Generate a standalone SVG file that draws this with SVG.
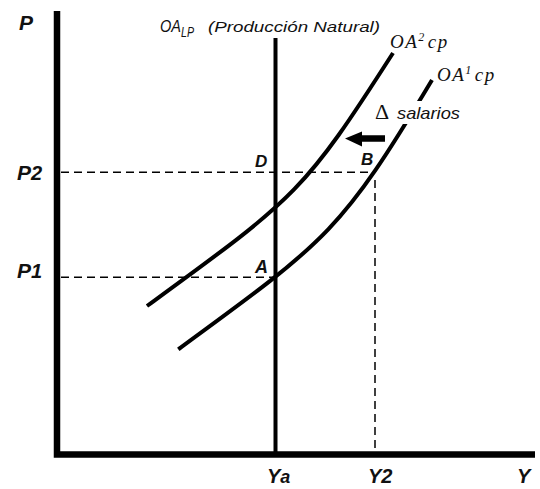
<svg xmlns="http://www.w3.org/2000/svg" width="540" height="489" viewBox="0 0 540 489">
<style>
.lbl{font-family:"Liberation Sans",Arial,sans-serif;font-weight:bold;font-style:italic;fill:#111}
.math{font-family:"Liberation Serif","Times New Roman",serif;font-style:italic;fill:#111}
.up{font-family:"Liberation Serif","Times New Roman",serif;font-style:normal;fill:#111}
.it{font-family:"Liberation Sans",Arial,sans-serif;font-style:italic;fill:#111}
.curve{fill:none;stroke:#000;stroke-width:4}
.dash{fill:none;stroke:#000;stroke-width:1.5;stroke-dasharray:8,5}
</style>
<rect width="540" height="489" fill="#fff"/>
<g id="axes">
<path d="M57,11 V454.5 H535" fill="none" stroke="#000" stroke-width="6.5"/>
</g>
<g id="connectors">
<path class="dash" d="M61,172.3 H374"/>
<path class="dash" d="M61,277.3 H275"/>
<path class="dash" d="M375,180 V451"/>
<path id="oalp" d="M275.5,38 V452" stroke="#000" stroke-width="4" fill="none"/>
<path id="oa2" class="curve" d="M147,306 C297,196.5 303,193.4 393,53"/>
<path id="oa1" class="curve" d="M178.3,349.3 C328.3,239.8 342,230.3 432,80"/>
<polygon id="shift-arrow" points="345,138.5 362,131.5 362,135.3 385,135.3 385,141.7 362,141.7 362,146.5" fill="#000"/>
</g>
<g id="label-salarios">
<rect x="370" y="101" width="95" height="23" fill="#fff"/>
<text class="up" x="375" y="118.5" font-size="22">Δ</text>
<text class="it" x="397" y="119" font-size="17" textLength="63" lengthAdjust="spacingAndGlyphs">salarios</text>
</g>
<g id="label-P"><text class="lbl" x="19" y="30" font-size="21">P</text></g>
<g id="label-P2"><text class="lbl" x="17" y="180" font-size="21">P<tspan font-size="20">2</tspan></text></g>
<g id="label-P1"><text class="lbl" x="17" y="278" font-size="21">P<tspan font-size="20">1</tspan></text></g>
<g id="label-D"><text class="lbl" x="255" y="166.7" font-size="17">D</text></g>
<g id="label-B"><text class="lbl" x="361" y="165" font-size="17">B</text></g>
<g id="label-A"><text class="lbl" x="255" y="273.3" font-size="18">A</text></g>
<g id="label-Ya"><text class="lbl" x="267" y="483" font-size="20">Y<tspan font-size="18">a</tspan></text></g>
<g id="label-Y2"><text class="lbl" x="368" y="483" font-size="20">Y2</text></g>
<g id="label-Y"><text class="lbl" x="517" y="483" font-size="20">Y</text></g>
<g id="label-oalp">
<text class="it" x="160" y="31.5" font-size="16" textLength="21" lengthAdjust="spacingAndGlyphs">OA</text>
<text class="it" x="181" y="36.7" font-size="15" textLength="13" lengthAdjust="spacingAndGlyphs">LP</text>
<text class="it" x="208" y="31.5" font-size="15" textLength="172" lengthAdjust="spacingAndGlyphs">(Producción Natural)</text>
</g>
<g id="label-oa2"><text class="math" x="390" y="48.3" font-size="19" letter-spacing="1.5">OA<tspan font-size="12" dy="-7">2</tspan><tspan dy="7" dx="2">cp</tspan></text></g>
<g id="label-oa1"><text class="math" x="437" y="81" font-size="19" letter-spacing="1.5">OA<tspan font-size="12" dy="-7">1</tspan><tspan dy="7" dx="2">cp</tspan></text></g>
</svg>
